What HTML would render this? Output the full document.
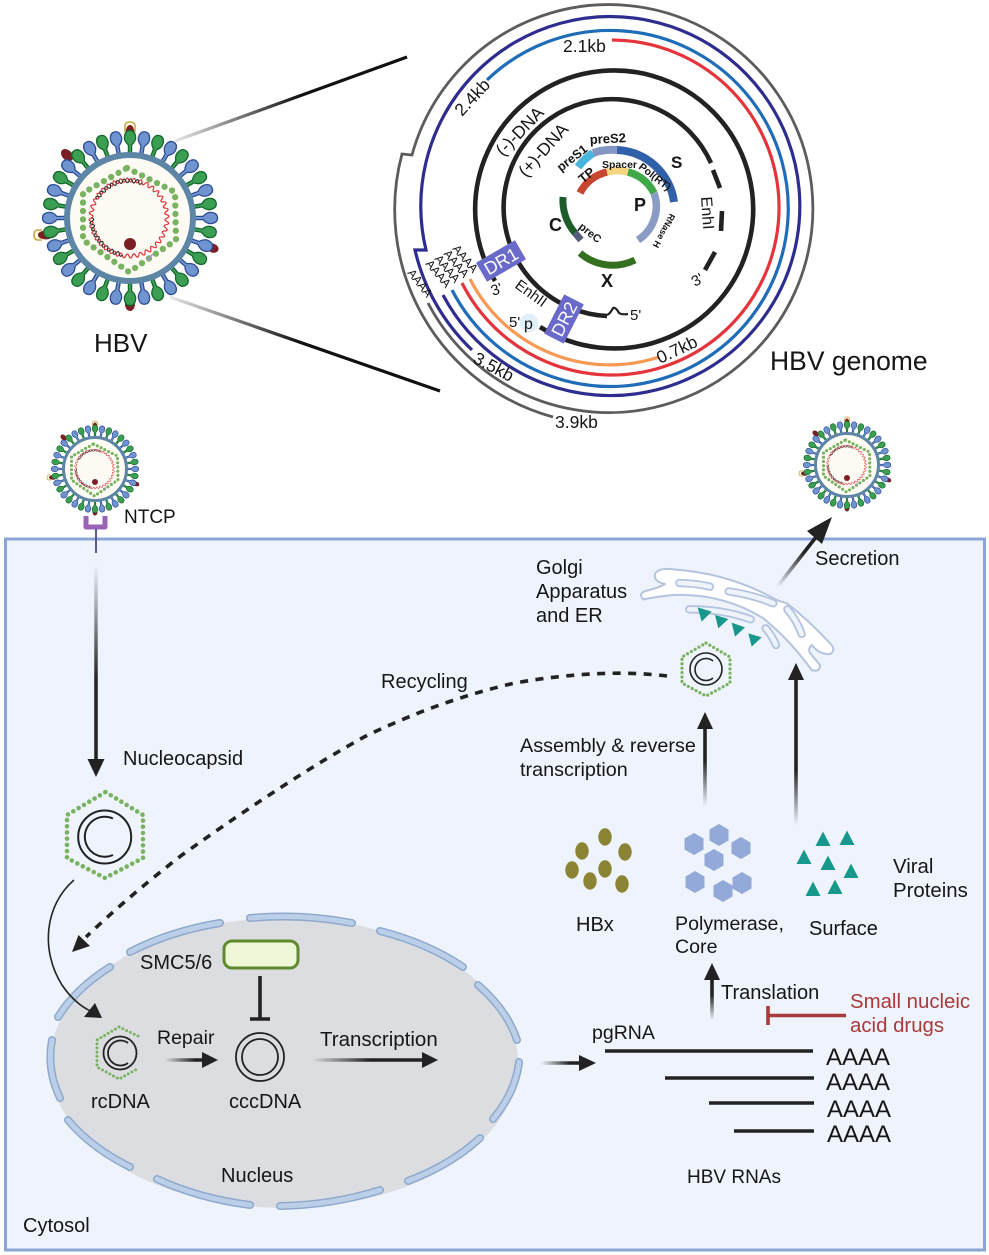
<!DOCTYPE html>
<html><head><meta charset="utf-8"><title>HBV life cycle</title>
<style>
html,body{margin:0;padding:0;background:#fff}
svg{display:block}
text{font-family:"Liberation Sans",sans-serif;fill:#161616;font-size:20px}
.b{font-weight:bold}
.r{fill:#a83a3a}
</style></head><body>
<svg width="989" height="1255" viewBox="0 0 989 1255" xmlns="http://www.w3.org/2000/svg">
<defs>
<path id="hd" d="M-1.6,-62L-1.6,-73Q-6,-77 -5.6,-81Q-5,-87.500 0,-87.500Q5,-87.500 5.600,-81Q6,-77 1.600,-73L1.600,-62Z"/>
<g id="sp">
  <use href="#hd" fill="#3c9e52" stroke="#14692e" stroke-width="1.3"/>
  <use href="#hd" transform="rotate(10)" fill="#6f94d0" stroke="#2d4d93" stroke-width="1.3"/>
</g>
<g id="sp2"><use href="#sp"/><use href="#sp" transform="rotate(20)"/></g>
<g id="sp4"><use href="#sp2"/><use href="#sp2" transform="rotate(40)"/></g>
<g id="sp8"><use href="#sp4"/><use href="#sp4" transform="rotate(80)"/></g>
<g id="sp16"><use href="#sp8"/><use href="#sp8" transform="rotate(160)"/></g>
<path id="w1" d="M-3.3,-38 q1.65,-4 3.3,0 t3.3,0" fill="none"/>
<g id="w2"><use href="#w1"/><use href="#w1" transform="rotate(10)"/></g>
<g id="w4"><use href="#w2"/><use href="#w2" transform="rotate(20)"/></g>
<g id="w8"><use href="#w4"/><use href="#w4" transform="rotate(40)"/></g>
<g id="w16"><use href="#w8"/><use href="#w8" transform="rotate(80)"/></g>
<g id="w32"><use href="#w16"/><use href="#w16" transform="rotate(160)"/></g>
<g id="virus">
  <g transform="rotate(-45)"><ellipse cx="0" cy="-89" rx="5" ry="7" fill="#7a1f24"/></g>
  <ellipse cx="0" cy="-84" rx="5" ry="8" fill="#7a1f24"/>
  <path d="M-5,-86V-92q0,-4 5,-4t5,4v6" fill="#fff8e0" stroke="#c9a94e" stroke-width="1.6"/>
  <ellipse cx="0" cy="-86" rx="4.2" ry="7" fill="#7a1f24"/>
  <ellipse cx="0" cy="86" rx="5" ry="7" fill="#7a1f24"/>
  <ellipse cx="-84" cy="17" rx="7" ry="4.500" fill="#7a1f24"/>
  <path d="M-88,12H-92q-4,0 -4,5t4,5h4" fill="#fff8e0" stroke="#c9a94e" stroke-width="1.6"/>
  <ellipse cx="-86" cy="17" rx="6" ry="4" fill="#7a1f24"/>
  <g transform="rotate(110)"><ellipse cx="0" cy="-88" rx="4.500" ry="6" fill="#7a1f24"/></g>
  <use href="#sp16"/><use href="#sp2" transform="rotate(320)"/>
  <circle r="63" fill="#fdfbf3" stroke="#5d86a6" stroke-width="6"/>
  <polygon points="-3,-50 45,-26 46,22 -1,54 -47,22 -47,-25" fill="none" stroke="#79b260" stroke-width="6.300" stroke-linecap="round" stroke-dasharray="0 8.400" stroke-linejoin="round"/>
  <g transform="translate(-1,0)" stroke-width="1.2">
    <use href="#w32" stroke="#e0303a"/><use href="#w4" stroke="#e0303a" transform="rotate(320)"/>
    <g transform="rotate(5) scale(.98)" stroke="#333"><use href="#w8" transform="rotate(-60)"/><use href="#w8" transform="rotate(190)"/></g>
  </g>
  <path d="M23,36l-6,6" stroke="#b68ae0" stroke-width="1.5"/>
  <circle cx="0" cy="26" r="6" fill="#7a1f24"/>
</g>
<polygon id="hx" points="0,-11 9.500,-5.500 9.500,5.500 0,11 -9.500,5.500 -9.500,-5.500" fill="#93a9d8"/>
<polygon id="tr" points="0,-7.500 7.500,7 -7.500,7" fill="#16988c"/>
<linearGradient id="g1" gradientUnits="userSpaceOnUse" x1="175" y1="141" x2="300" y2="97"><stop offset="0" stop-color="#e8e8e8"/><stop offset="1" stop-color="#111"/></linearGradient>
<linearGradient id="g2" gradientUnits="userSpaceOnUse" x1="170" y1="297" x2="300" y2="342"><stop offset="0" stop-color="#e8e8e8"/><stop offset="1" stop-color="#111"/></linearGradient>
<linearGradient id="g3" gradientUnits="userSpaceOnUse" x1="0" y1="565" x2="0" y2="680"><stop offset="0" stop-color="#222" stop-opacity="0"/><stop offset="1" stop-color="#222"/></linearGradient>
<linearGradient id="g4" gradientUnits="userSpaceOnUse" x1="777" y1="587" x2="805" y2="552"><stop offset="0" stop-color="#222" stop-opacity="0"/><stop offset="1" stop-color="#222"/></linearGradient>
<linearGradient id="g5" gradientUnits="userSpaceOnUse" x1="0" y1="825" x2="0" y2="770"><stop offset="0" stop-color="#222" stop-opacity="0"/><stop offset="1" stop-color="#222"/></linearGradient>
<linearGradient id="g6" gradientUnits="userSpaceOnUse" x1="0" y1="806" x2="0" y2="760"><stop offset="0" stop-color="#222" stop-opacity="0"/><stop offset="1" stop-color="#222"/></linearGradient>
<linearGradient id="g7" gradientUnits="userSpaceOnUse" x1="0" y1="1020" x2="0" y2="995"><stop offset="0" stop-color="#222" stop-opacity="0"/><stop offset="1" stop-color="#222"/></linearGradient>
<linearGradient id="g8" gradientUnits="userSpaceOnUse" x1="165" y1="0" x2="195" y2="0"><stop offset="0" stop-color="#222" stop-opacity="0"/><stop offset="1" stop-color="#222"/></linearGradient>
<linearGradient id="g9" gradientUnits="userSpaceOnUse" x1="312" y1="0" x2="370" y2="0"><stop offset="0" stop-color="#222" stop-opacity="0"/><stop offset="1" stop-color="#222"/></linearGradient>
<linearGradient id="g10" gradientUnits="userSpaceOnUse" x1="541" y1="0" x2="570" y2="0"><stop offset="0" stop-color="#222" stop-opacity="0"/><stop offset="1" stop-color="#222"/></linearGradient>
</defs>

<rect width="989" height="1255" fill="#fff"/>

<!-- zoom lines -->
<path d="M175,141L407,57" stroke="url(#g1)" stroke-width="3.2"/>
<path d="M170,297L440,391" stroke="url(#g2)" stroke-width="3.2"/>
<use href="#virus" transform="translate(130,218)"/>
<text x="94" y="352" style="font-size:26px">HBV</text>

<!-- genome rings -->
<g fill="none" stroke-linecap="butt">
<path d="M428,303 A204 204 0 1 0 412,155 L402,154 A215 215 0 0 0 553,417" stroke="#5c5c5c" stroke-width="2.800"/>
<path d="M443,295 A189.500 189.500 0 1 0 426,250 L415,250 A200 200 0 0 0 472,350" stroke="#2e2d8f" stroke-width="3.200"/>
<path d="M487,80 A178 178 0 1 1 452,290" stroke="#1f6db8" stroke-width="3.200"/>
<path d="M612,40 A167.500 167.500 0 1 1 462,283" stroke="#e5343c" stroke-width="3.200"/>
<path d="M470,279 A157 157 0 0 0 659,357" stroke="#f89a55" stroke-width="3.200"/>
<path d="M540,327 A139 139 0 1 0 495,281" stroke="#222" stroke-width="4.600"/>
<path d="M607,316 A108.500 108.500 0 1 1 711,163" stroke="#222" stroke-width="4.600"/>
<path d="M713,170L720,188M722,211L721,231M715,252L705,270" stroke="#222" stroke-width="4.600"/>
<path d="M607,315q3,-1 6,-7q3,-1 6,5q3,2 9,1" stroke="#222" stroke-width="2.200"/>
<!-- inner genes -->
<path d="M578,167 A60 60 0 0 1 593,153" stroke="#4ab5dc" stroke-width="8"/>
<path d="M593,153 A60 60 0 0 1 617,150" stroke="#8396c4" stroke-width="8"/>
<path d="M617,150 A60 60 0 0 1 674,202" stroke="#2f60a8" stroke-width="8"/>
<path d="M580,193 A40 40 0 0 1 607,172" stroke="#c8452f" stroke-width="7.500"/>
<path d="M607,172 A40 40 0 0 1 628,172" stroke="#f5d67e" stroke-width="7.500"/>
<path d="M628,172 A40 40 0 0 1 654,193" stroke="#3fa948" stroke-width="7.500"/>
<path d="M654,193 A40 40 0 0 1 638,240" stroke="#8b9cc4" stroke-width="7.500"/>
<path d="M563,197 A50 50 0 0 0 575,233" stroke="#1f5c2b" stroke-width="7"/>
<path d="M575,233 L581,240" stroke="#565d78" stroke-width="7"/>
<path d="M580,253 A50 50 0 0 0 635,260" stroke="#34701f" stroke-width="7"/>
</g>
<g transform="translate(501,261) rotate(-30)"><rect x="-22.500" y="-11" width="45" height="22" fill="#6a6acb"/><text x="0" y="6.500" text-anchor="middle" style="font-size:18px;fill:#fff">DR1</text></g>
<g transform="translate(564,319) rotate(-63)"><rect x="-22" y="-11" width="44" height="22" fill="#6a6acb"/><text x="0" y="6.500" text-anchor="middle" style="font-size:18px;fill:#fff">DR2</text></g>
<circle cx="529" cy="323" r="9.500" fill="#e2f0fa"/>
<text x="524" y="329" style="font-size:16px">p</text>
<text x="509" y="327" style="font-size:15px">5'</text>
<text x="630" y="320" style="font-size:15px">5'</text>
<text x="493" y="296" style="font-size:15px" transform="rotate(-20 493 296)">3'</text>
<text x="695" y="287" style="font-size:15px" transform="rotate(-30 695 287)">3'</text>
<text transform="translate(514,287) rotate(36)" style="font-size:15px">EnhII</text>
<text transform="translate(701,197) rotate(86)" style="font-size:16px">EnhI</text>
<text x="563" y="52" style="font-size:17.500px">2.1kb</text>
<text transform="translate(462,117) rotate(-47)" style="font-size:17.500px">2.4kb</text>
<text transform="translate(660,364) rotate(-25)" style="font-size:17.500px">0.7kb</text>
<text transform="translate(472,362) rotate(28)" style="font-size:17.500px">3.5kb</text>
<text x="555" y="428" style="font-size:17.500px">3.9kb</text>
<text transform="translate(503,157) rotate(-46)" style="font-size:17.500px">(-)-DNA</text>
<text transform="translate(526,178) rotate(-48)" style="font-size:17.500px">(+)-DNA</text>
<text transform="translate(561,172) rotate(-38)" class="b" style="font-size:12.500px">preS1</text>
<text transform="translate(590,144) rotate(-3)" class="b" style="font-size:13px">preS2</text>
<text x="671" y="168" class="b" style="font-size:17px">S</text>
<text transform="translate(583,184) rotate(-40)" class="b" style="font-size:13px">TP</text>
<text x="602" y="168" class="b" style="font-size:10.500px">Spacer</text>
<text transform="translate(638,168) rotate(38)" class="b" style="font-size:10.500px">Pol(RT)</text>
<text x="634" y="211" class="b" style="font-size:18px">P</text>
<text x="549" y="231" class="b" style="font-size:18px">C</text>
<text transform="translate(578,228) rotate(38)" class="b" style="font-size:11px">preC</text>
<text transform="translate(670,213) rotate(118)" class="b" style="font-size:9px">RNase H</text>
<text x="601" y="287" class="b" style="font-size:18px">X</text>
<text transform="translate(452,249) rotate(50)" style="font-size:12px">AAAA</text>
<text transform="translate(443,254) rotate(50)" style="font-size:12px">AAAA</text>
<text transform="translate(434,259) rotate(50)" style="font-size:12px">AAAA</text>
<text transform="translate(425,264) rotate(50)" style="font-size:12px">AAAA</text>
<text transform="translate(407,273) rotate(52)" style="font-size:12px">AAAA</text>
<text x="770" y="370" style="font-size:26.500px">HBV genome</text>

<!-- cell -->
<rect x="5.500" y="539" width="979" height="711" fill="#eef3fc" stroke="#8aa5d6" stroke-width="3"/>
<use href="#virus" transform="translate(95,469) scale(.5)"/>
<use href="#virus" transform="translate(847,465) scale(.5)"/>
<text x="124" y="523" style="font-size:19px">NTCP</text>
<path d="M86,516V527H105V516" fill="none" stroke="#9a63b5" stroke-width="5" stroke-linejoin="round"/>
<path d="M96,529V553" stroke="#4c4a8c" stroke-width="1.800"/>
<path d="M96,565V762" stroke="url(#g3)" stroke-width="3.500"/>
<polygon points="96,777 87.500,759 104.500,759" fill="#222"/>
<text x="123" y="765">Nucleocapsid</text>

<!-- nucleocapsid -->
<polygon points="105.500,792 143,815 143,858 105,878 67,858 67,815" fill="none" stroke="#79b260" stroke-width="4.600" stroke-linecap="round" stroke-dasharray="0 6.200"/>
<circle cx="104.700" cy="837" r="26.500" fill="none" stroke="#222" stroke-width="2"/>
<path d="M113,818.500A20 20 0 1 0 113,855" fill="none" stroke="#222" stroke-width="2"/>

<!-- recycling -->
<path d="M667,676Q600,668 515,683Q440,700 364,737Q290,778 182,855Q130,895 86,937" fill="none" stroke="#222" stroke-width="3.600" stroke-dasharray="8 7.500"/>
<polygon points="72,952 78.500,935 90,946" fill="#222"/>
<text x="381" y="688">Recycling</text>

<!-- nucleus -->
<ellipse cx="284" cy="1063" rx="234" ry="145" fill="#dcdde1"/>
<g fill="none" stroke-linecap="round">
<path d="M130,952A234 145 0 0 1 220,923M250,918A234 145 0 0 1 352,923M380,931A234 145 0 0 1 463,967M478,985A234 145 0 0 1 517,1040M519,1062A234 145 0 0 1 493,1119M480,1138A234 145 0 0 1 408,1181M380,1190A234 145 0 0 1 280,1206M250,1205A234 145 0 0 1 157,1179M130,1167A234 145 0 0 1 68,1120M60,1098A234 145 0 0 1 52,1040M58,1017A234 145 0 0 1 110,967" stroke="#8ea9cc" stroke-width="8"/>
<path d="M130,952A234 145 0 0 1 220,923M250,918A234 145 0 0 1 352,923M380,931A234 145 0 0 1 463,967M478,985A234 145 0 0 1 517,1040M519,1062A234 145 0 0 1 493,1119M480,1138A234 145 0 0 1 408,1181M380,1190A234 145 0 0 1 280,1206M250,1205A234 145 0 0 1 157,1179M130,1167A234 145 0 0 1 68,1120M60,1098A234 145 0 0 1 52,1040M58,1017A234 145 0 0 1 110,967" stroke="#bccfe9" stroke-width="5"/>
</g>
<path d="M74,880C45,905 40,950 62,985C72,1000 85,1010 96,1013" fill="none" stroke="#222" stroke-width="1.600"/>
<polygon points="102,1018 84,1017 95,1003" fill="#222"/>
<rect x="224" y="941" width="74" height="27" rx="8" fill="#eef7d8" stroke="#5f8a2e" stroke-width="3"/>
<text x="140" y="969">SMC5/6</text>
<path d="M260,976V1019M250,1019H270" stroke="#222" stroke-width="3.600" fill="none"/>
<polyline points="138,1036 119,1027 97,1040 97,1067 119,1079 139,1068" fill="none" stroke="#79b260" stroke-width="3" stroke-linecap="round" stroke-dasharray="0 4.200"/>
<circle cx="120" cy="1053" r="16.500" fill="none" stroke="#222" stroke-width="1.800"/>
<path d="M128,1043A12.500 12.500 0 1 0 128,1063" fill="none" stroke="#222" stroke-width="1.800"/>
<text x="157" y="1044" style="font-size:19.500px">Repair</text>
<path d="M165,1060H205" stroke="url(#g8)" stroke-width="3.600"/>
<polygon points="218,1060 202,1052 202,1068" fill="#222"/>
<circle cx="260" cy="1057" r="24" fill="none" stroke="#222" stroke-width="1.800"/>
<circle cx="260" cy="1057" r="18" fill="none" stroke="#222" stroke-width="1.800"/>
<text x="320" y="1046" style="font-size:20.500px">Transcription</text>
<path d="M312,1060H425" stroke="url(#g9)" stroke-width="3.600"/>
<polygon points="438,1060 422,1052 422,1068" fill="#222"/>
<text x="91" y="1108">rcDNA</text>
<text x="229" y="1108">cccDNA</text>
<text x="221" y="1182">Nucleus</text>
<text x="23" y="1232">Cytosol</text>

<!-- rna -->
<path d="M541,1063H585" stroke="url(#g10)" stroke-width="3.600"/>
<polygon points="596,1063 579,1055 579,1071" fill="#222"/>
<text x="592" y="1039" style="font-size:19.500px">pgRNA</text>
<path d="M605,1051H813M665,1078H814M709,1103H814M734,1131H814" stroke="#222" stroke-width="3.500"/>
<text x="826" y="1065" style="font-size:24px">AAAA</text>
<text x="826" y="1090" style="font-size:24px">AAAA</text>
<text x="827" y="1117" style="font-size:24px">AAAA</text>
<text x="827" y="1142" style="font-size:24px">AAAA</text>
<text x="687" y="1183" style="font-size:19px">HBV RNAs</text>

<!-- translation -->
<path d="M712,1020V977" stroke="url(#g7)" stroke-width="3.600"/>
<polygon points="712,963 704,980 720,980" fill="#222"/>
<text x="721" y="999">Translation</text>
<path d="M768,1006V1025M768,1015.500H846" stroke="#a83a3a" stroke-width="3.600" fill="none"/>
<text x="850" y="1008" class="r" style="font-size:20.400px">Small nucleic</text>
<text x="850" y="1032" class="r" style="font-size:20.400px">acid drugs</text>

<!-- proteins -->
<g fill="#8b8434">
<ellipse cx="605" cy="837" rx="6.700" ry="8.700"/><ellipse cx="582" cy="851" rx="6.700" ry="8.700"/><ellipse cx="625" cy="852" rx="6.700" ry="8.700"/><ellipse cx="572" cy="870" rx="6.700" ry="8.700"/><ellipse cx="605" cy="869" rx="6.700" ry="8.700"/><ellipse cx="590" cy="881" rx="6.700" ry="8.700"/><ellipse cx="622" cy="884" rx="6.700" ry="8.700"/>
</g>
<use href="#hx" x="694" y="844"/><use href="#hx" x="719" y="835"/><use href="#hx" x="741" y="848"/><use href="#hx" x="714" y="860"/><use href="#hx" x="695" y="882"/><use href="#hx" x="742" y="883"/><use href="#hx" x="723" y="891"/>
<use href="#tr" x="823" y="839"/><use href="#tr" x="847" y="838"/><use href="#tr" x="804" y="857"/><use href="#tr" x="828" y="863"/><use href="#tr" x="851" y="871"/><use href="#tr" x="813" y="889"/><use href="#tr" x="835" y="887"/>
<text x="576" y="931">HBx</text>
<text x="675" y="930" style="font-size:19.600px">Polymerase,</text>
<text x="675" y="953" style="font-size:19.600px">Core</text>
<text x="809" y="935">Surface</text>
<text x="893" y="873" style="font-size:20.400px">Viral</text>
<text x="893" y="897" style="font-size:20.400px">Proteins</text>

<!-- arrows up -->
<path d="M705,806V725" stroke="url(#g6)" stroke-width="3.600"/>
<polygon points="705,712 697,729 713,729" fill="#222"/>
<path d="M796,825V677" stroke="url(#g5)" stroke-width="3.600"/>
<polygon points="796,663 788,680 804,680" fill="#222"/>
<text x="520" y="752" style="font-size:19.800px">Assembly &amp; reverse</text>
<text x="520" y="776" style="font-size:19.800px">transcription</text>

<!-- small capsid -->
<polygon points="706,643 730,657 730,683 706,696 682,683 682,657" fill="none" stroke="#79b260" stroke-width="3.200" stroke-linecap="round" stroke-dasharray="0 4.400"/>
<circle cx="706" cy="669" r="16" fill="none" stroke="#222" stroke-width="1.600"/>
<path d="M713,661A11 11 0 1 0 713,678" fill="none" stroke="#222" stroke-width="1.600"/>

<!-- golgi -->
<g transform="translate(630,550) scale(.33333)">
<path d="M40,148Q22,130 50,122Q90,112 105,102Q70,95 75,72Q85,52 130,58Q300,70 440,150L470,160Q530,205 600,280Q620,300 600,312Q570,315 545,285Q530,300 545,315L570,345Q570,368 545,360Q480,270 400,205Q280,130 130,135Q80,140 40,148Z" fill="#fff" stroke="#b5c4de" stroke-width="6" stroke-linejoin="round"/>
<g fill="none" stroke-linecap="round">
<path d="M148,99Q200,100 240,110M296,124Q370,135 430,160M472,178Q500,210 515,252" stroke="#b5c4de" stroke-width="25"/>
<path d="M148,99Q200,100 240,110M296,124Q370,135 430,160M472,178Q500,210 515,252" stroke="#eef3fc" stroke-width="14"/>
<path d="M178,178Q280,178 362,208M407,235Q425,255 438,285" stroke="#b5c4de" stroke-width="25"/>
<path d="M178,178Q280,178 362,208M407,235Q425,255 438,285" stroke="#eef3fc" stroke-width="14"/>
</g>
<g fill="#16988c">
<polygon points="203,172 245,185 215,215"/><polygon points="255,195 295,207 265,235"/><polygon points="305,218 345,232 315,260"/><polygon points="355,250 395,262 365,290"/>
</g>
</g>
<text x="536" y="574">Golgi</text>
<text x="536" y="598">Apparatus</text>
<text x="536" y="622">and ER</text>
<path d="M777,587L820,532" stroke="url(#g4)" stroke-width="3.600"/>
<polygon points="832,517 807,531 822,544" fill="#222"/>
<text x="815" y="565">Secretion</text>
</svg>
</body></html>
